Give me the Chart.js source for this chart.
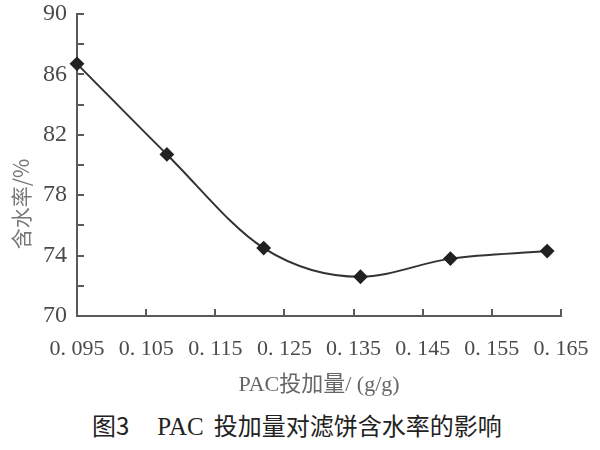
<!DOCTYPE html>
<html>
<head>
<meta charset="utf-8">
<script src="https://cdn.jsdelivr.net/npm/chart.js@4"></script>
<style>
  html, body { margin: 0; padding: 0; background: #fff; }
  #wrap { position: relative; width: 600px; height: 450px; overflow: hidden; }
  #box { position: absolute; left: 0; top: 0; width: 600px; height: 398px; }
  #cap { position: absolute; left: 92px; top: 410px; white-space: nowrap; color: #222;
         font-family: "Noto Sans CJK SC", sans-serif; font-size: 24px; line-height: 30px; }
  #cap .ser { font-family: "Liberation Serif", serif; font-size: 25px; }
</style>
</head>
<body>
<div id="wrap">
  <div id="box"><canvas id="c"></canvas></div>
  <div id="cap">图3<span style="display:inline-block;width:28px"></span><span class="ser">PAC</span><span style="display:inline-block;width:10px"></span>投加量对滤饼含水率的影响</div>
</div>
<script>
const dosage = [0.095, 0.108, 0.122, 0.136, 0.149, 0.163];
const moisture = [86.7, 80.7, 74.5, 72.6, 73.8, 74.3];
const xTickValues = [0.095, 0.105, 0.115, 0.125, 0.135, 0.145, 0.155, 0.165];
const xTickLabels = ["0. 095", "0. 105", "0. 115", "0. 125", "0. 135", "0. 145", "0. 155", "0. 165"];
const yLabelValues = [70, 74, 78, 82, 86, 90];
const xTitle = "PAC投加量/ (g/g)";
const yTitle = "含水率/%";

const axisColor = "#5a5a5a";
const serif = '"Liberation Serif", "Noto Sans CJK SC", serif';
Chart.defaults.font.family = serif;

const innerTicks = {
  id: "innerTicks",
  afterDraw(chart) {
    const ctx = chart.ctx, a = chart.chartArea;
    const xs = chart.scales.x, ys = chart.scales.y;
    ctx.save();
    ctx.strokeStyle = axisColor;
    ctx.lineWidth = 2;
    ctx.beginPath();
    xs.ticks.forEach(t => {
      const px = Math.round(xs.getPixelForValue(t.value));
      if (px <= a.left + 1) return;
      ctx.moveTo(px, a.bottom);
      ctx.lineTo(px, a.bottom - 7);
    });
    ys.ticks.forEach(t => {
      const py = Math.round(ys.getPixelForValue(t.value));
      if (py >= a.bottom - 1) return;
      ctx.moveTo(a.left, py);
      ctx.lineTo(a.left + 7, py);
    });
    ctx.stroke();
    ctx.translate(21, 204);
    ctx.rotate(-Math.PI / 2);
    ctx.fillStyle = "#777";
    ctx.font = '21px "Noto Sans CJK SC", sans-serif';
    ctx.textAlign = "center";
    ctx.textBaseline = "middle";
    ctx.fillText(yTitle, 0, 0);
    ctx.restore();
  }
};

function build() {
  new Chart(document.getElementById("c"), {
    type: "line",
    data: {
      datasets: [{
        data: dosage.map((x, i) => ({ x: x, y: moisture[i] })),
        borderColor: "#333",
        borderWidth: 2,
        backgroundColor: "#222",
        pointStyle: "rectRot",
        pointRadius: 6,
        pointBackgroundColor: "#222",
        pointBorderColor: "#222",
        cubicInterpolationMode: "monotone",
        clip: false
      }]
    },
    plugins: [innerTicks],
    options: {
      responsive: true,
      maintainAspectRatio: false,
      animation: false,
      devicePixelRatio: 1,
      layout: { padding: { left: 0, right: 39, top: 14, bottom: 0 } },
      plugins: { legend: { display: false }, tooltip: { enabled: false } },
      scales: {
        x: {
          type: "linear",
          min: 0.095, max: 0.165,
          afterBuildTicks: s => { s.ticks = xTickValues.map(v => ({ value: v })); },
          afterFit: s => { s.height = 82; s.paddingLeft = 0; s.paddingRight = 0; },
          grid: { display: false, drawTicks: false },
          border: { display: true, color: axisColor, width: 2 },
          ticks: {
            padding: 20,
            color: "#4a4a4a",
            font: { family: serif, size: 22 },
            maxRotation: 0, autoSkip: false,
            callback: (v, i) => xTickLabels[i]
          },
          title: {
            display: true, text: xTitle, color: "#666",
            font: { family: serif, size: 22 },
            padding: { top: 2, bottom: 0 }
          }
        },
        y: {
          min: 70, max: 90,
          afterFit: s => { s.width = 77; s.paddingTop = 0; s.paddingBottom = 0; },
          grid: { display: false, drawTicks: false },
          border: { display: true, color: axisColor, width: 2 },
          ticks: {
            stepSize: 2,
            padding: 10,
            color: "#4a4a4a",
            font: { family: serif, size: 24 },
            autoSkip: false,
            callback: v => yLabelValues.includes(v) ? String(v) : ""
          }
        }
      }
    }
  });
}

if (document.fonts && document.fonts.load) {
  Promise.all([
    document.fonts.load('22px "Liberation Serif"'),
    document.fonts.load('21px "Noto Sans CJK SC"', "含水率")
  ]).then(build, build);
} else {
  build();
}
</script>
</body>
</html>
